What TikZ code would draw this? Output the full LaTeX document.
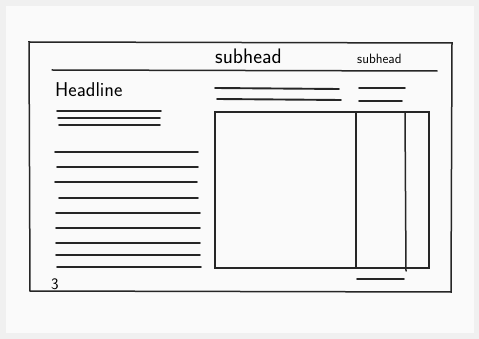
\documentclass[tikz,border=0pt]{standalone}
\usepackage{tikz}
\newcommand{\tsf}[1]{\textsf{#1}}

\begin{document}
\begin{tikzpicture}[x=1pt,y=-1pt,line cap=round,
    sketch/.style={draw=black!85,line width=1.5pt},
    textline/.style={draw=black!85,line width=1.9pt}]
      % page and frame
      \fill[black!6] (0,0) rectangle (479,339);
      \fill[black!2] (6,6) rectangle (474,333);
      \useasboundingbox (0,0) rectangle (479,339);
      \draw[sketch] (29,42) -- (452,43) -- (451,292) -- (30,291) -- cycle;

      % subheads and their rule
      \node [name=subA, anchor=base west, inner sep=0pt] at (215,64) {\fontsize{21}{21}\selectfont\tsf{subhead}};
      \node [name=subB, anchor=base west, inner sep=0pt] at (357,64) {\fontsize{13.5}{13.5}\selectfont\tsf{subhead}};
      \draw[sketch] (52,70) -- (437,71);

      % headline with its deck
      \node [name=head, anchor=base west, inner sep=0pt] at (55,97) {\fontsize{20}{20}\selectfont\tsf{Headline}};
      \draw[textline] (57,111) -- (161,111);
      \draw[textline] (58,118) -- (160,118);
      \draw[textline] (59,125) -- (160,125);

      % body copy
      \foreach \y/\a/\b in {152/55/198, 167/57/198, 182/55/197, 198/59/198,
                            213/56/200, 228/56/200, 243/56/200, 255/56/200, 267/57/201}
        \draw[textline] (\a,\y) -- (\b,\y);

      % copy under subheads
      \draw[textline] (215,88) -- (339,89);
      \draw[textline] (217,99) -- (341,100);
      \draw[textline] (359,88) -- (405,88);
      \draw[textline] (359,101) -- (402,101);

      % picture box with columns
      \draw[sketch] (215,112) rectangle (429,268);
      \draw[sketch] (356,112) -- (356,268);
      \draw[sketch] (405,113) -- (406,271);
      \draw[textline] (357,279) -- (404,279);

      % folio
      \node [name=folio, anchor=base west, inner sep=0pt] at (51,289) {\fontsize{16}{16}\selectfont\tsf{3}};
    \end{tikzpicture}
\end{document}
